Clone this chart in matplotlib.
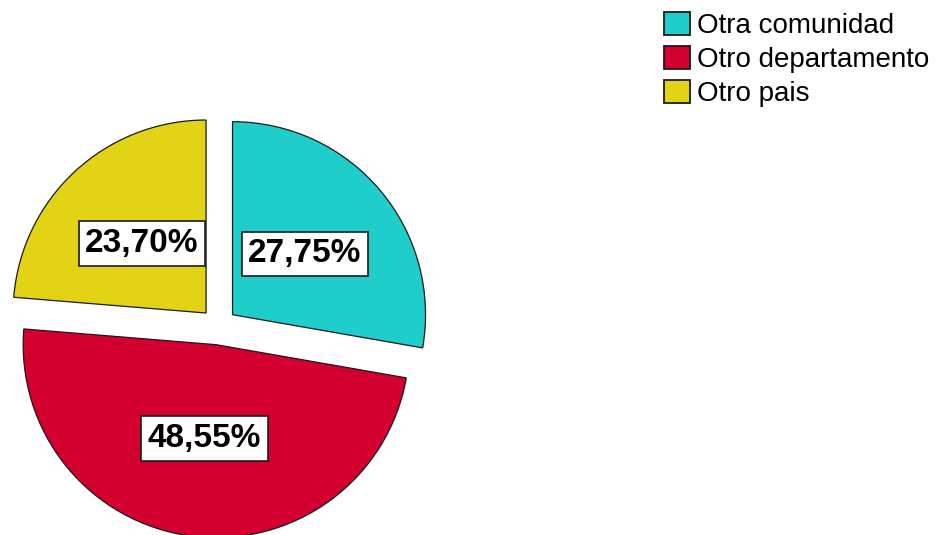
import matplotlib
matplotlib.use("Agg")
import matplotlib.pyplot as plt

# data
categories = ["Otra comunidad", "Otro departamento", "Otro pais"]
percentages = [27.75, 48.55, 23.70]
colors = ["#1fcecb", "#d3002f", "#e2d414"]

W, H = 946, 535
R = 193.0               # pie radius in pixels
cx, cy = 218.5, 326.5   # pie centre in pixels (from top-left)

plt.rcParams["font.family"] = ["Liberation Sans", "DejaVu Sans"]

fig = plt.figure(figsize=(W / 100, H / 100), dpi=100)
ax = fig.add_axes([0, 0, 1, 1])


def fmt_pct(p):
    return f"{p:.2f}".replace(".", ",") + "%"


wedges, texts, autotexts = ax.pie(
    percentages,
    colors=colors,
    startangle=90,
    counterclock=False,
    explode=[0.095] * len(percentages),
    radius=1.0,
    center=(0, 0),
    autopct=fmt_pct,
    pctdistance=0.49,
    wedgeprops=dict(edgecolor="#1a1a1a", linewidth=0.9),
    textprops=dict(fontsize=24, fontweight="bold", color="black"),
)
for t in autotexts:
    t.set_bbox(dict(boxstyle="square,pad=0.2", facecolor="white",
                    edgecolor="#1a1a1a", linewidth=1.2))

# axes limits in units of the radius so that 1 unit == R pixels
ax.set_xlim(-cx / R, (W - cx) / R)
ax.set_ylim(-(H - cy) / R, cy / R)
ax.set_aspect("equal")
ax.axis("off")

leg = fig.legend(
    wedges, categories,
    loc="upper left",
    bbox_to_anchor=(664 / W, 1 - 12 / H),
    frameon=False,
    fontsize=20,
    handlelength=0.93,
    handleheight=0.92,
    handletextpad=0.25,
    labelspacing=0.24,
    borderpad=0,
    borderaxespad=0,
)
for h in leg.legend_handles:
    h.set_edgecolor("#1a1a1a")
    h.set_linewidth(1.3)

fig.savefig("out.png", dpi=100)
